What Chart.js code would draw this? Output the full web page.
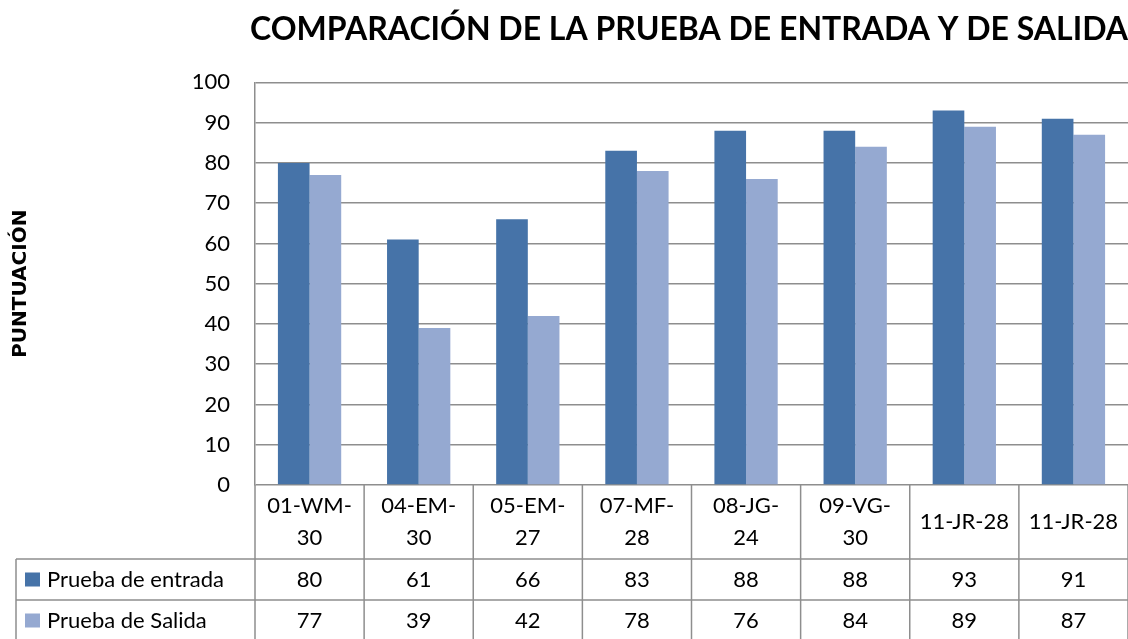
<!DOCTYPE html>
<html>
<head>
<meta charset="utf-8">
<script src="https://cdn.jsdelivr.net/npm/chart.js@4/dist/chart.umd.min.js"></script>
<style>
  html, body { margin: 0; padding: 0; background: #fff; }
  #wrap { width: 1128px; height: 639px; }
</style>
</head>
<body>
<div id="wrap"><canvas id="scoreChart" width="1128" height="639"></canvas></div>
<script>
// Chart data
const categories = [
  ['01-WM-', '30'],
  ['04-EM-', '30'],
  ['05-EM-', '27'],
  ['07-MF-', '28'],
  ['08-JG-', '24'],
  ['09-VG-', '30'],
  ['11-JR-28'],
  ['11-JR-28']
];
const entrada = [80, 61, 66, 83, 88, 88, 93, 91];
const salida = [77, 39, 42, 78, 76, 84, 89, 87];
const seriesNames = ['Prueba de entrada', 'Prueba de Salida'];
const yTicks = [0, 10, 20, 30, 40, 50, 60, 70, 80, 90, 100];

const DARK = '#4673A8';
const LIGHT = '#95A9D1';
const GRID = '#8e8e8e';
const FONT = 'Lato, "Open Sans", sans-serif';

// Data table under the plot (Excel style)
const dataTable = {
  id: 'dataTable',
  afterDraw(chart) {
    const ctx = chart.ctx;
    const area = chart.chartArea;
    const xs = chart.scales.x;
    const n = categories.length;
    const cw = (area.right - area.left) / n;
    const headBottom = area.bottom + 74;
    const rowH = 41;
    const tableLeft = 16;

    ctx.save();
    ctx.strokeStyle = GRID;
    ctx.lineWidth = 1.5;

    // vertical lines of the header row + data rows
    for (let i = 0; i <= n; i++) {
      const x = area.left + i * cw;
      ctx.beginPath();
      ctx.moveTo(x, area.bottom);
      ctx.lineTo(x, headBottom + rowH * 2 + 5);
      ctx.stroke();
    }
    ctx.beginPath();
    ctx.moveTo(tableLeft, headBottom);
    ctx.lineTo(tableLeft, headBottom + rowH * 2 + 5);
    ctx.stroke();

    // horizontal row lines
    [headBottom, headBottom + rowH].forEach(y => {
      ctx.beginPath();
      ctx.moveTo(tableLeft, y);
      ctx.lineTo(area.right, y);
      ctx.stroke();
    });

    ctx.fillStyle = '#000';
    ctx.font = '22px ' + FONT;
    ctx.textAlign = 'center';
    ctx.textBaseline = 'middle';

    // header labels
    const headMid = (area.bottom + headBottom) / 2;
    categories.forEach((lines, i) => {
      const cx = xs.getPixelForValue(i);
      const lh = 32;
      const start = headMid - (lines.length - 1) * lh / 2;
      lines.forEach((t, k) => ctx.fillText(t, cx, start + k * lh));
    });

    // data rows
    const rows = [entrada, salida];
    const colors = [DARK, LIGHT];
    rows.forEach((vals, r) => {
      const cy = headBottom + rowH * r + rowH / 2;
      ctx.fillStyle = colors[r];
      ctx.fillRect(25, cy - 7, 15, 14);
      ctx.fillStyle = '#000';
      ctx.textAlign = 'left';
      ctx.fillText(seriesNames[r], 47, cy);
      ctx.textAlign = 'center';
      vals.forEach((v, i) => ctx.fillText(String(v), xs.getPixelForValue(i), cy));
    });
    ctx.restore();
  }
};

new Chart(document.getElementById('scoreChart'), {
  type: 'bar',
  data: {
    labels: categories.map(l => l.join('')),
    datasets: [
      { label: seriesNames[0], data: entrada, backgroundColor: DARK },
      { label: seriesNames[1], data: salida, backgroundColor: LIGHT }
    ]
  },
  options: {
    responsive: false,
    animation: false,
    devicePixelRatio: 1,
    datasets: {
      bar: { categoryPercentage: 0.58, barPercentage: 1.0 }
    },
    layout: { padding: { left: 0, right: 0, top: 0, bottom: 154 } },
    plugins: {
      legend: { display: false },
      tooltip: { enabled: false },
      title: {
        display: true,
        text: 'COMPARACIÓN DE LA PRUEBA DE ENTRADA Y DE SALIDA',
        align: 'end',
        color: '#000',
        font: { family: FONT, size: 32, weight: 'bold' },
        padding: { top: 10, bottom: 34 }
      }
    },
    scales: {
      x: {
        ticks: { display: false },
        grid: { display: false, drawTicks: false },
        border: { display: false },
        afterFit(s) { s.height = 0; }
      },
      y: {
        min: 0,
        max: 100,
        afterBuildTicks(s) { s.ticks = yTicks.map(v => ({ value: v })); },
        ticks: {
          color: '#000',
          padding: 25,
          font: { family: FONT, size: 22 }
        },
        grid: { color: GRID, lineWidth: 1.5, drawTicks: false },
        border: { display: true, color: GRID, width: 1.5 },
        title: {
          display: true,
          text: 'PUNTUACIÓN',
          color: '#000',
          font: { family: '"DejaVu Sans", sans-serif', size: 20, weight: 'bold' },
          padding: { top: 9, bottom: 0 }
        },
        afterFit(s) { s.width = 255; }
      }
    }
  },
  plugins: [dataTable]
});
</script>
</body>
</html>
